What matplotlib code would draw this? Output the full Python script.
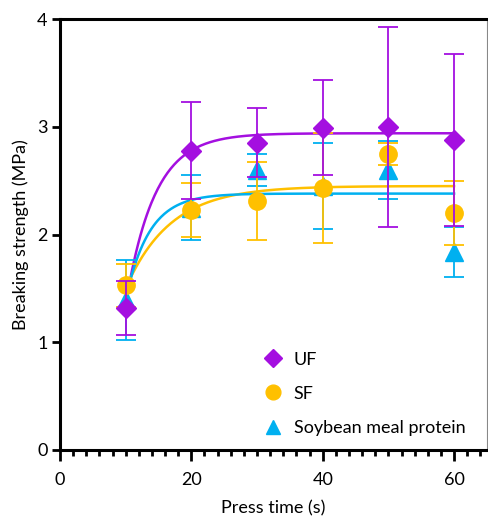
import numpy as np
import matplotlib.pyplot as plt
from matplotlib.ticker import MultipleLocator

plt.rcParams['font.family'] = ['Lato', 'DejaVu Sans']

# press time (s)
t = [10, 20, 30, 40, 50, 60]

# breaking strength (MPa), mean and error
uf = [1.32, 2.78, 2.85, 2.99, 3.00, 2.88]
uf_err = [0.25, 0.45, 0.32, 0.44, 0.93, 0.80]
sf = [1.53, 2.23, 2.31, 2.43, 2.75, 2.20]
sf_err = [0.20, 0.25, 0.36, 0.51, 0.10, 0.30]
soy = [1.39, 2.25, 2.60, 2.45, 2.60, 1.84]
soy_err = [0.37, 0.30, 0.15, 0.40, 0.27, 0.23]

# one-phase association fits: y0, plateau, k
uf_fit = [1.35, 2.94, 0.23]
sf_fit = [1.50, 2.45, 0.147]
soy_fit = [1.40, 2.38, 0.28]

labels = ['UF', 'SF', 'Soybean meal protein']
colors = ['#A40FE0', '#FFC000', '#00B0F0']
markers = ['D', 'o', '^']


def fit_curve(p, x):
    y0, plat, k = p
    return y0 + (plat - y0) * (1 - np.exp(-k * (x - 10)))


fig = plt.figure(figsize=(4.89, 5.16), dpi=100)
ax = fig.add_axes([0.1227, 0.128, 0.873, 0.835])

xf = np.linspace(10.6, 60, 300)
series = [(uf, uf_err, uf_fit), (sf, sf_err, sf_fit), (soy, soy_err, soy_fit)]
msizes = [10.5, 12.5, 12.5]
# draw soybean first, UF on top
for i in [2, 1, 0]:
    y, e, p = series[i]
    ax.plot(xf, fit_curve(p, xf), color=colors[i], lw=1.8, zorder=2 + i * 0.1)
for i in [2, 1, 0]:
    y, e, p = series[i]
    ax.errorbar(t, y, yerr=e, fmt='none', ecolor=colors[i], elinewidth=1.3,
                capsize=7, capthick=1.3, zorder=3 + (2 - i))
    ax.plot(t, y, ls='none', marker=markers[i], ms=msizes[i], color=colors[i],
            mec=colors[i], zorder=3.5 + (2 - i), label=labels[i])

ax.set_xlim(0, 65)
ax.set_ylim(0, 4)
ax.set_xticks([0, 20, 40, 60])
ax.set_yticks([0, 1, 2, 3, 4])
ax.xaxis.set_minor_locator(MultipleLocator(2))
ax.tick_params(axis='both', which='major', direction='out', width=2,
               length=6, labelsize=13, color='black')
ax.tick_params(axis='x', which='major', length=8, pad=8)
ax.tick_params(axis='x', which='minor', direction='out', width=2, length=4)
ax.tick_params(axis='y', pad=3)

for s in ['left', 'bottom', 'top']:
    ax.spines[s].set_linewidth(2.2)
ax.spines['right'].set_linewidth(0.8)
ax.spines['right'].set_color('#888888')

ax.set_xlabel('Press time (s)', fontsize=13, labelpad=9)
ax.set_ylabel('Breaking strength (MPa)', fontsize=13, labelpad=6)

h, l = ax.get_legend_handles_labels()
order = [2, 1, 0]
leg = ax.legend([h[j] for j in order], [l[j] for j in order], frameon=False,
                loc='lower left', bbox_to_anchor=(0.435, -0.005), fontsize=13,
                markerscale=0.85, handlelength=1.2, handletextpad=0.55,
                labelspacing=1.0, numpoints=1)

plt.savefig('out.png', dpi=100)
